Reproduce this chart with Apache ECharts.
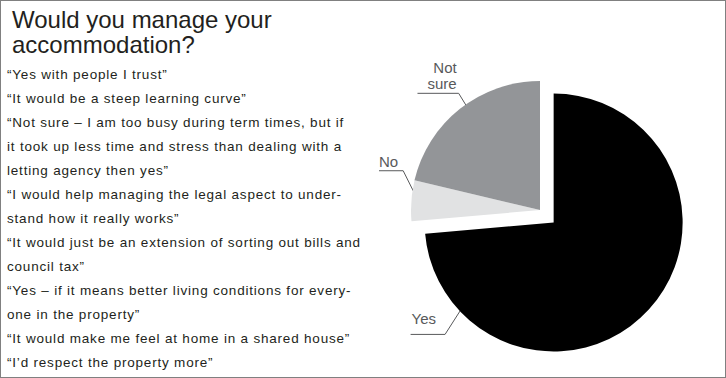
<!DOCTYPE html>
<html>
<head>
<meta charset="utf-8">
<script src="https://cdn.jsdelivr.net/npm/echarts@6/dist/echarts.min.js"></script>
<style>
  html, body { margin: 0; padding: 0; background: #fff; }
  #chart { width: 724px; height: 376px; border: 1px solid #808080; }
  /* the quotes in the reference are set with open tracking */
  #chart text[style*="13.5px"] { letter-spacing: 0.8px; }
</style>
</head>
<body>
<div id="chart"></div>
<script>
const categories = ["Yes", "No", "Not sure"];
const shares = [73.6, 5.1, 21.3];
const sliceColors = ["#000000", "#e1e2e3", "#939598"];
// the pulled-out slice
const explodedIndex = 0;

const titleLines = ["Would you manage your", "accommodation?"];
const quotes = [
  "\u201cYes with people I trust\u201d",
  "\u201cIt would be a steep learning curve\u201d",
  "\u201cNot sure \u2013 I am too busy during term times, but if",
  "it took up less time and stress than dealing with a",
  "letting agency then yes\u201d",
  "\u201cI would help managing the legal aspect to under-",
  "stand how it really works\u201d",
  "\u201cIt would just be an extension of sorting out bills and",
  "council tax\u201d",
  "\u201cYes \u2013 if it means better living conditions for every-",
  "one in the property\u201d",
  "\u201cIt would make me feel at home in a shared house\u201d",
  "\u201cI\u2019d respect the property more\u201d"
];

const FONT = "Liberation Sans, Arial, Helvetica, sans-serif";
const CENTER = [539, 209];
const RADIUS = 129;
const OFFSET = 18.5;

// where each leader leaves its slice (fraction of the slice sweep),
// the kink of the leader and how the label sits on it
const labelAnchor = [0.856, 0.7, 0.54];
const elbow = [[-16, 25], [-11, -22], [-8, -13]];
const labelGap = [9, 5, 2];
const lineExtra = [1, 0, 10];
const labelLift = [8, 1, 2];

const total = shares.reduce((a, b) => a + b, 0);
function sliceStart(i) {
  let s = 0;
  for (let k = 0; k < i; k++) s += (shares[k] / total) * 360;
  return s;
}
function sliceMid(i) {
  return sliceStart(i) + (shares[i] / total) * 180;
}

const midRad = (sliceMid(explodedIndex) * Math.PI) / 180;
const explodedCenter = [
  CENTER[0] + Math.sin(midRad) * OFFSET,
  CENTER[1] - Math.cos(midRad) * OFFSET
];

function makeLayout(center) {
  return function (params) {
    const i = params.dataIndex;
    const start = sliceStart(i);
    const sweep = (shares[i] / total) * 360;
    const ang = ((start + sweep * labelAnchor[i]) * Math.PI) / 180;
    const ax = center[0] + Math.sin(ang) * (RADIUS - 2);
    const ay = center[1] - Math.cos(ang) * (RADIUS - 2);
    const ex = ax + elbow[i][0];
    const ey = ay + elbow[i][1];
    const w = params.labelRect.width;
    const right = ex - labelGap[i];
    return {
      x: right,
      y: ey - labelLift[i],
      align: "right",
      verticalAlign: "bottom",
      labelLinePoints: [[ax, ay], [ex, ey], [right - w - lineExtra[i], ey]]
    };
  };
}

// one ring holds the pulled-out slice, the other the rest
function pieSeries(center, showExploded) {
  return {
    type: "pie",
    center: center,
    radius: RADIUS,
    startAngle: 90,
    clockwise: true,
    silent: true,
    label: {
      show: true,
      position: "outside",
      overflow: "none",
      fontFamily: FONT,
      fontSize: 15,
      lineHeight: 16,
      color: "#58595b",
      formatter: (p) => p.name.replace(" ", "\n")
    },
    labelLine: {
      show: true,
      length: 2,
      length2: 2,
      lineStyle: { color: "#58595b", width: 1 }
    },
    labelLayout: makeLayout(center),
    data: categories.map((name, i) => {
      const visible = (i === explodedIndex) === showExploded;
      return {
        name: name,
        value: shares[i],
        itemStyle: { color: visible ? sliceColors[i] : "rgba(0,0,0,0)" },
        label: { show: visible },
        labelLine: { show: visible }
      };
    })
  };
}

const chart = echarts.init(document.getElementById("chart"), null, { renderer: "svg" });

const option = {
  animation: false,
  title: [
    {
      text: titleLines.join("\n"),
      left: 11,
      top: 6,
      padding: 0,
      textStyle: { fontFamily: FONT, fontSize: 24, fontWeight: "normal", lineHeight: 25, color: "#231f20" }
    },
    {
      text: quotes.join("\n"),
      left: 6,
      top: 61,
      padding: 0,
      textStyle: { fontFamily: FONT, fontSize: 13.5, fontWeight: "normal", lineHeight: 24, color: "#231f20" }
    }
  ],
  series: [pieSeries(explodedCenter, true), pieSeries(CENTER, false)]
};

chart.setOption(option);
</script>
</body>
</html>
